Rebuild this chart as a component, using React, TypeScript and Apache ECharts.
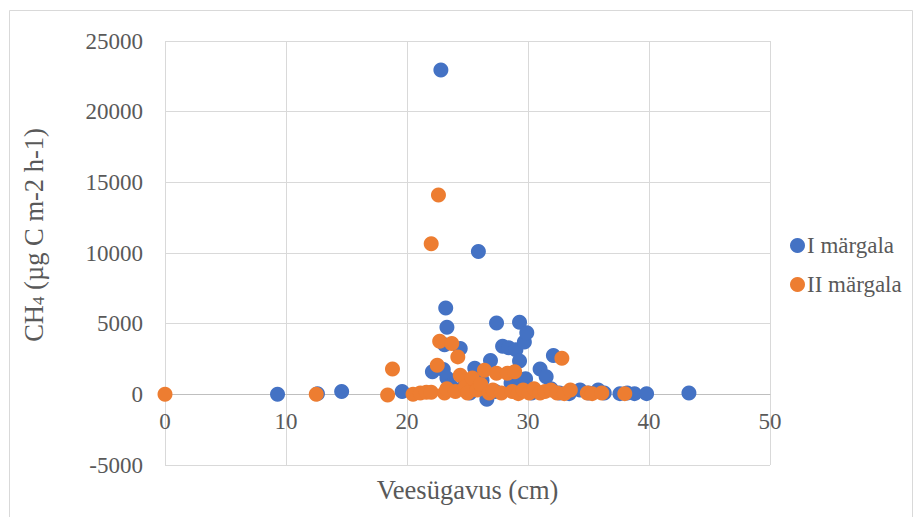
import React, { useEffect, useRef } from "react";
import * as echarts from "echarts";

// Water depth (cm) and CH4 flux (µg C m-2 h-1) for the two sites
const site1Depth = [
  9.3, 12.6, 14.6, 19.6, 22.1, 22.8, 23.0, 23.1, 23.2, 23.3, 23.3, 23.6, 24.4, 24.0,
  24.8, 25.2, 25.6, 25.9, 25.7, 26.2, 26.6, 26.9, 27.3, 27.4, 27.9, 28.4, 28.6, 29.0,
  29.3, 29.3, 29.5, 29.7, 29.9, 29.8, 30.3, 31.0, 31.5, 31.9, 32.1, 32.6, 33.4, 34.3,
  35.0, 35.8, 36.3, 37.6, 38.2, 38.8, 39.8, 43.3,
];
const site1Flux = [
  0, 50, 200, 200, 1600, 22950, 1750, 3500, 6100, 4750, 1150, 600, 3250, 300,
  800, 100, 1850, 10100, 400, 1000, -350, 2400, 200, 5050, 3400, 3300, 800, 3150,
  5100, 2350, 900, 3700, 4350, 1100, 100, 1800, 1250, 400, 2750, 100, 50, 300,
  100, 300, 100, 50, 100, 50, 50, 100,
];

const site2Depth = [
  0.0, 12.5, 18.4, 18.8, 20.5, 21.1, 21.6, 22.0, 22.0, 22.6, 22.5, 22.7, 23.1, 23.3,
  23.7, 24.2, 24.4, 24.0, 24.8, 25.0, 25.4, 25.8, 26.1, 26.4, 26.8, 27.4, 27.1, 27.8,
  28.3, 28.9, 28.7, 29.2, 29.6, 30.1, 30.5, 31.0, 31.4, 31.9, 32.4, 32.8, 33.0, 33.5,
  34.9, 35.3, 36.1, 38.0,
];
const site2Flux = [
  0, 0, -50, 1800, 0, 100, 150, 150, 10650, 14100, 2050, 3750, 100, 400,
  3600, 2650, 1350, 200, 500, 100, 1150, 300, 700, 1700, 100, 1500, 300, 100,
  1500, 1600, 200, 50, 300, 100, 400, 100, 200, 300, 100, 2550, 50, 300,
  100, 50, 100, 50,
];

const seriesNames = ["I märgala", "II märgala"];
const seriesColors = ["#4472C4", "#ED7D31"];

const pairs = (xs: number[], ys: number[]) => xs.map((x, i) => [x, ys[i]]);

const textColor = "#595959";
const fontFamily = "Liberation Serif";

const gridTop = 41;
const gridBottom = 52;
const chartHeight = 517;
const yMin = -5000;
const yMax = 25000;
// the depth axis crosses the flux axis at zero, above the bottom of the plot
const zeroLift = ((0 - yMin) / (yMax - yMin)) * (chartHeight - gridTop - gridBottom);

export default function App() {
  const ref = useRef<HTMLDivElement>(null);

  useEffect(() => {
    if (!ref.current) return;
    const chart = echarts.init(ref.current, undefined, { renderer: "svg" });
    chart.setOption({
      animation: false,
      backgroundColor: "#ffffff",
      textStyle: { fontFamily },
      graphic: [
        {
          type: "rect",
          shape: { x: 9.5, y: 10.5, width: 903, height: 530 },
          style: { fill: "none", stroke: "#d9d9d9", lineWidth: 1 },
          silent: true,
          z: -1,
        },
      ],
      grid: {
        left: 165,
        right: 146,
        top: gridTop,
        bottom: gridBottom,
        outerBoundsMode: "none",
        containLabel: false,
      },
      legend: {
        orient: "vertical",
        left: 785,
        top: 229,
        icon: "circle",
        itemWidth: 15,
        itemHeight: 15,
        itemGap: 16,
        itemStyle: { borderWidth: 0 },
        textStyle: { color: textColor, fontSize: 23, fontFamily, padding: [0, 0, 0, -3] },
        data: seriesNames,
      },
      xAxis: {
        type: "value",
        min: 0,
        max: 50,
        interval: 10,
        offset: -zeroLift,
        name: "Veesügavus (cm)",
        nameLocation: "middle",
        nameGap: 82,
        nameTextStyle: { color: textColor, fontSize: 26.5, fontFamily },
        axisLine: { onZero: false, lineStyle: { color: "#bfbfbf", width: 1 } },
        axisTick: { show: false },
        axisLabel: { color: textColor, fontSize: 23, fontFamily, margin: 16 },
        splitLine: { show: true, lineStyle: { color: "#d9d9d9", width: 1 } },
      },
      yAxis: {
        type: "value",
        min: yMin,
        max: yMax,
        interval: 5000,
        name: "{a|CH}{b|4}{a| (µg C m-2 h-1)}",
        nameLocation: "middle",
        nameGap: 118,
        nameRotate: 90,
        nameTextStyle: {
          color: textColor,
          fontFamily,
          padding: [0, 0, 0, 36],
          rich: {
            a: { fontSize: 26.5, color: textColor, fontFamily, verticalAlign: "bottom", lineHeight: 31 },
            b: { fontSize: 17, color: textColor, fontFamily, verticalAlign: "bottom", lineHeight: 22 },
          },
        },
        axisLine: { show: false, onZero: false },
        axisTick: { show: false },
        axisLabel: {
          color: textColor,
          fontSize: 23,
          fontFamily,
          margin: 22,
          formatter: (v: number) => String(v),
        },
        splitLine: { show: true, lineStyle: { color: "#d9d9d9", width: 1 } },
      },
      series: [
        {
          name: seriesNames[0],
          type: "scatter",
          symbol: "circle",
          symbolSize: 15,
          itemStyle: { color: seriesColors[0], opacity: 1 },
          data: pairs(site1Depth, site1Flux),
        },
        {
          name: seriesNames[1],
          type: "scatter",
          symbol: "circle",
          symbolSize: 15,
          itemStyle: { color: seriesColors[1], opacity: 1 },
          data: pairs(site2Depth, site2Flux),
        },
      ],
    });
    return () => chart.dispose();
  }, []);

  return (
    <div
      ref={ref}
      style={{ position: "fixed", left: 0, top: 0, width: 916, height: 517, background: "#fff" }}
    />
  );
}
